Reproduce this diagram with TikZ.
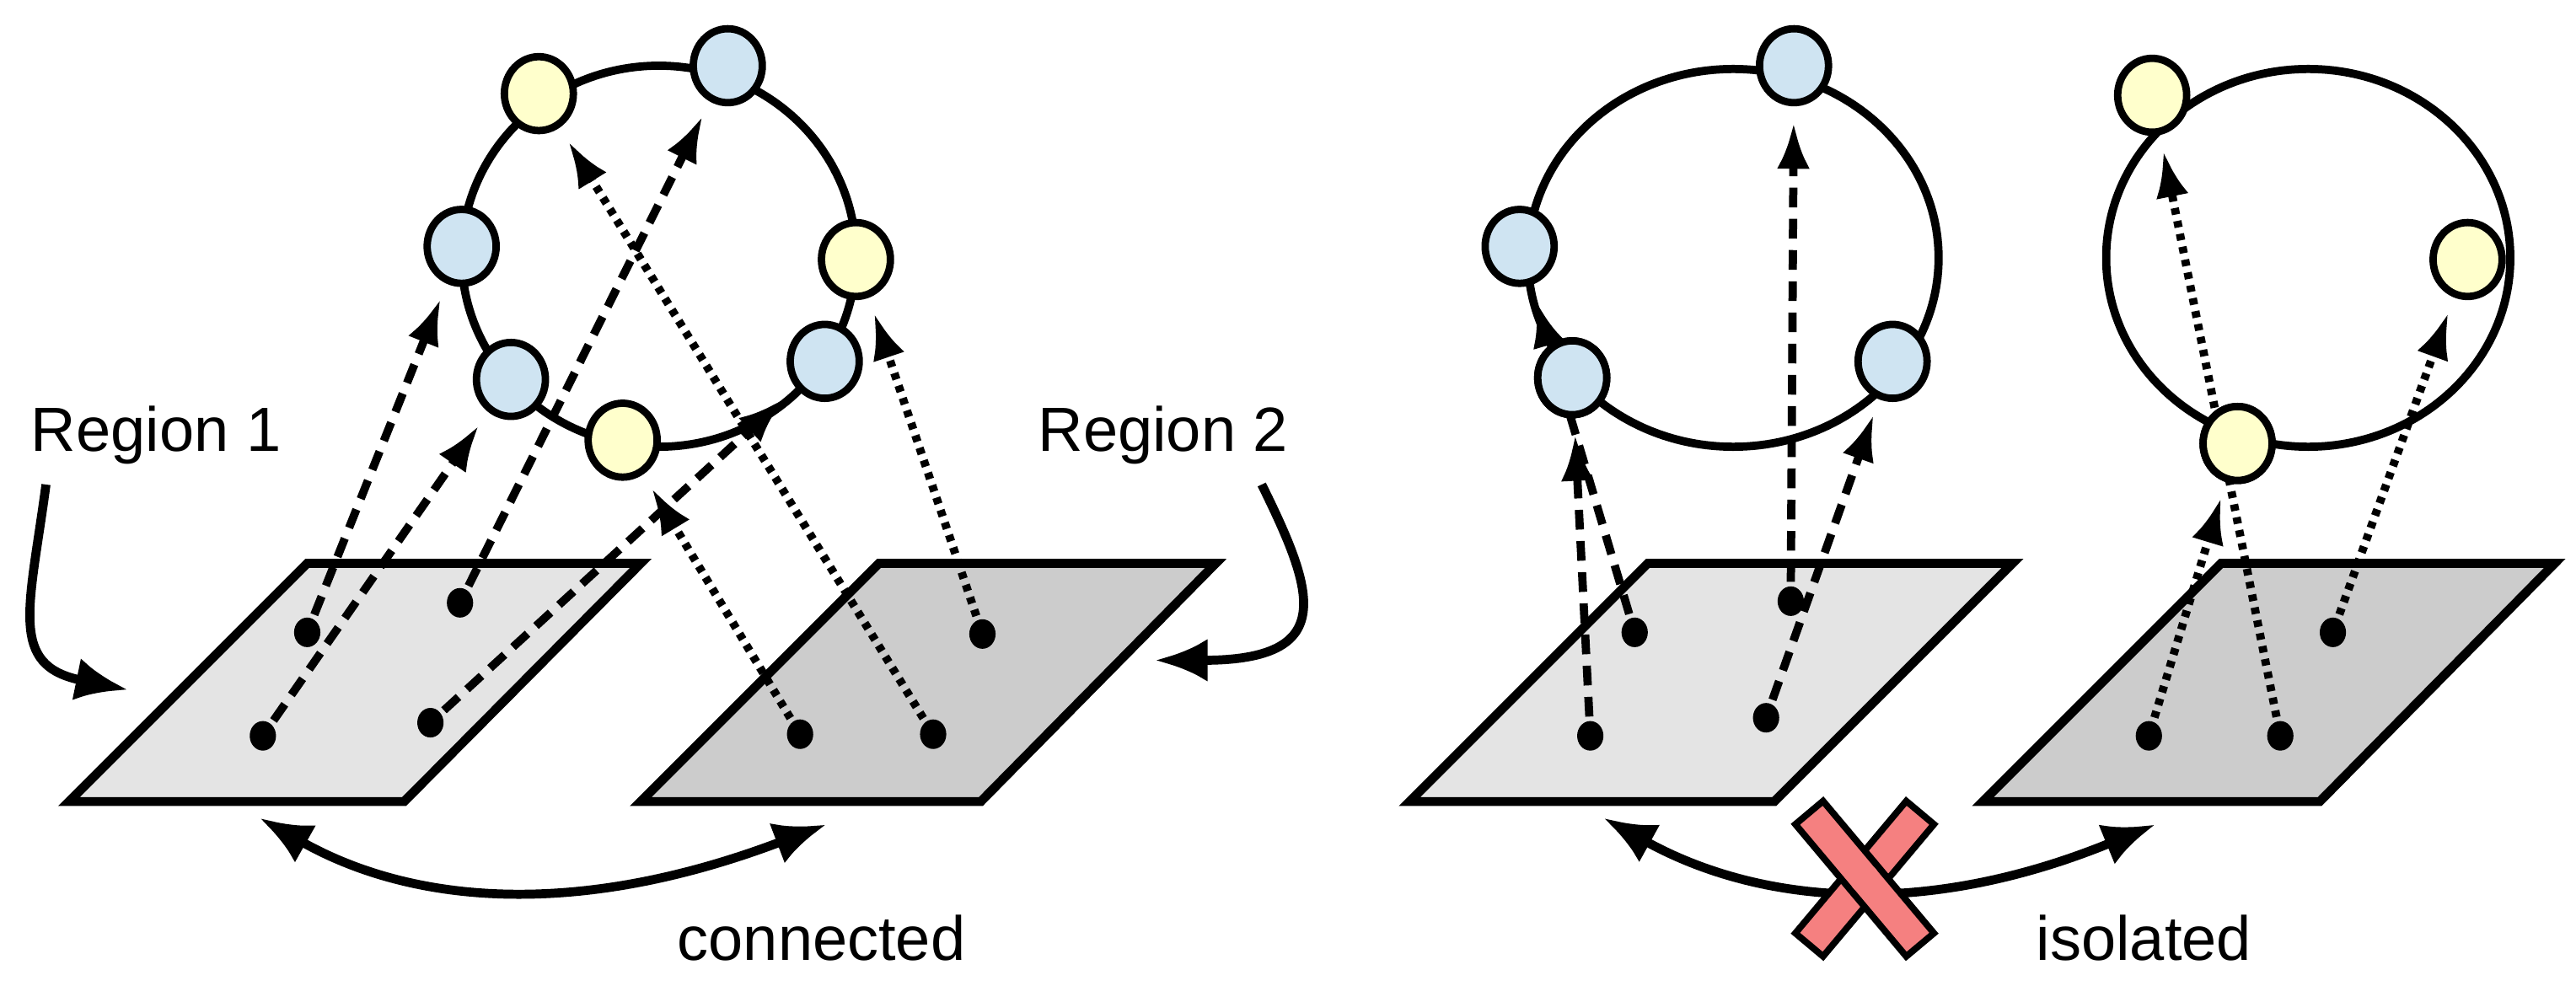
\documentclass[tikz,border=0pt]{standalone}
\usepackage{fontspec}
\setmainfont{Liberation Sans}
\usetikzlibrary{arrows.meta,shapes.geometric}
\definecolor{nb}{RGB}{207,228,242}
\definecolor{ny}{RGB}{255,255,204}
\definecolor{p1}{RGB}{228,228,228}
\definecolor{p2}{RGB}{204,204,204}
\definecolor{xr}{RGB}{245,128,128}
\begin{document}
\begin{tikzpicture}[x=1pt,y=-1pt,line width=5.5pt,
  ring/.style={draw,line width=5pt},
  bnode/.style={draw,ellipse,minimum width=42pt,minimum height=45pt,inner sep=0pt,line width=4.5pt,fill=nb},
  ynode/.style={draw,ellipse,minimum width=42pt,minimum height=45pt,inner sep=0pt,line width=4.5pt,fill=ny},
  dot/.style={ellipse,fill=black,minimum width=16pt,minimum height=18pt,inner sep=0pt},
  plane1/.style={draw,line width=5.5pt,fill=p1},
  plane2/.style={draw,line width=5.5pt,fill=p2},
  da/.style={-{Latex[length=28pt,width=20pt]},dash pattern=on 12pt off 7pt,line width=5pt,shorten >=10pt},
  do/.style={-{Latex[length=28pt,width=20pt]},dash pattern=on 4pt off 4pt,line width=5pt,shorten >=10pt},
  big/.style={{Latex[length=32pt,width=26pt]}-{Latex[length=32pt,width=26pt]},line width=5.5pt},
  xbar/.style={draw,line width=4pt,fill=xr,minimum width=105pt,minimum height=22pt,inner sep=0pt},
  lab/.style={font=\fontsize{38}{40}\selectfont}]
\useasboundingbox (0,0) rectangle (1568,600);
% planes
\draw[plane1] (42,488) -- (246,488) -- (390,343) -- (187,343) -- cycle;
\draw[plane2] (390,488) -- (597,488) -- (740,343) -- (535,343) -- cycle;
\draw[plane1] (858,488) -- (1080,488) -- (1225,343) -- (1003,343) -- cycle;
\draw[plane2] (1207,488) -- (1412,488) -- (1555,343) -- (1352,343) -- cycle;
% rings
\draw[ring] (401,156) ellipse (120 and 116);
\draw[ring] (1055,157) ellipse (125 and 115);
\draw[ring] (1405,157) ellipse (123 and 115);
% dots
\node[dot] (a1) at (187,385) {};
\node[dot] (a2) at (280,367) {};
\node[dot] (a3) at (160,448) {};
\node[dot] (a4) at (262,440) {};
\node[dot] (b1) at (598,386) {};
\node[dot] (b2) at (487,447) {};
\node[dot] (b3) at (568,447) {};
\node[dot] (c1) at (995,385) {};
\node[dot] (c2) at (1090,366) {};
\node[dot] (c3) at (968,448) {};
\node[dot] (c4) at (1075,437) {};
\node[dot] (d1) at (1420,385) {};
\node[dot] (d2) at (1308,448) {};
\node[dot] (d3) at (1388,448) {};
% ring nodes
\node[ynode] (L1) at (328,57) {};
\node[bnode] (L2) at (443,40) {};
\node[bnode] (L3) at (281,150) {};
\node[ynode] (L4) at (521,158) {};
\node[bnode] (L5) at (311,231) {};
\node[bnode] (L6) at (502,220) {};
\node[ynode] (L7) at (379,268) {};
\node[bnode] (R1) at (1092,40) {};
\node[bnode] (R2) at (925,150) {};
\node[bnode] (R3) at (957,230) {};
\node[bnode] (R4) at (1152,220) {};
\node[ynode] (S1) at (1310,58) {};
\node[ynode] (S2) at (1502,158) {};
\node[ynode] (S3) at (1362,270) {};
% arrows
\draw[da] (a1) -- (L3);
\draw[da] (a3) -- (L5);
\draw[da] (a2) -- (L2);
\draw[da] (a4) -- (L6);
\draw[do] (b2) -- (L7);
\draw[do] (b3) -- (L1);
\draw[do] (b1) -- (L4);
\draw[da] (c3) -- (R3);
\draw[da] (c1) -- (R2);
\draw[da] (c2) -- (R1);
\draw[da] (c4) -- (R4);
\draw[do] (d2) -- (S3);
\draw[do] (d3) -- (S1);
\draw[do] (d1) -- (S2);
% redraw nodes passed through
\node[bnode] at (R3) {};
\node[ynode] at (S3) {};
% labels
\node[lab] (r1) at (95,265) {Region 1};
\node[lab] (r2) at (708,265) {Region 2};
\node[lab] (con) at (500,571) {connected};
\node[lab] (iso) at (1305,571) {isolated};
\coordinate (r1s) at (28,295);
\coordinate (r1e) at (78,420);
\coordinate (r2s) at (768,295);
\coordinate (r2e) at (703,402);
\draw[-{Latex[length=32pt,width=26pt]}] (r1s) .. controls (18,370) and (5,405) .. (r1e);
\draw[-{Latex[length=32pt,width=26pt]}] (r2s) .. controls (800,360) and (815,402) .. (r2e);
\coordinate (u1) at (158,498);
\coordinate (u2) at (503,502);
\coordinate (v1) at (976,498);
\coordinate (v2) at (1312,502);
\draw[big] (u1) .. controls (250,550) and (350,560) .. (u2);
\draw[big] (v1) .. controls (1070,550) and (1170,560) .. (v2);
% red X
\node[xbar,rotate=50] (x1) at (1135,535) {};
\node[xbar,rotate=-50] (x2) at (1135,535) {};
\fill[xr] (1135,535) circle (9pt);
\end{tikzpicture}
\end{document}
